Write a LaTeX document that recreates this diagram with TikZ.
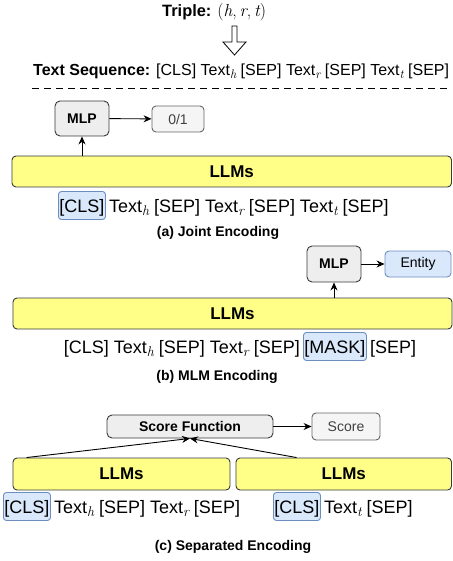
\documentclass[tikz,border=0pt]{standalone}
\usepackage{fontspec}
\setmainfont{Liberation Sans}
\usepackage{graphicx}
\usepackage{tikz}
\usetikzlibrary{arrows.meta}

\definecolor{llmyellow}{HTML}{FFFF88}
\definecolor{boxgray}{HTML}{EEEEEE}
\definecolor{outgray}{HTML}{F5F5F5}
\definecolor{outline}{HTML}{666666}
\definecolor{darkline}{HTML}{36393D}
\definecolor{hlblue}{HTML}{DAE8FC}
\definecolor{hlline}{HTML}{6C8EBF}

% italic subscript in Latin Modern
\newcommand{\sbs}[1]{\raisebox{-0.18em}{\scalebox{0.78}{\fontfamily{lmr}\fontshape{it}\selectfont #1}}}
\newcommand{\lmit}[1]{{\fontfamily{lmr}\fontshape{it}\selectfont #1}}

\begin{document}
\begin{tikzpicture}[x=1pt, y=-1pt,
  llm/.style={draw=darkline, fill=llmyellow, line width=0.9pt, rounded corners=4pt, inner sep=0pt, minimum height=31pt, font=\fontsize{17}{20}\selectfont\bfseries},
  mlp/.style={draw=darkline, fill=boxgray, line width=0.9pt, rounded corners=5pt, inner sep=0pt, font=\fontsize{14}{16}\selectfont\bfseries},
  outbox/.style={draw=outline, fill=outgray, line width=0.9pt, rounded corners=4pt, inner sep=0pt, text=black!75, font=\fontsize{14}{16}\selectfont},
  entbox/.style={draw=hlline, fill=hlblue, line width=0.9pt, rounded corners=4pt, inner sep=0pt, font=\fontsize{14}{16}\selectfont},
  tok/.style={inner sep=0pt, font=\fontsize{18}{20}\selectfont},
  hl/.style={tok, draw=hlline, fill=hlblue, line width=0.9pt, rounded corners=3pt, inner xsep=1pt, text height=13pt, text depth=0pt, minimum height=28pt},
  captxt/.style={inner sep=0pt, font=\fontsize{14}{16}\selectfont\bfseries},
  flow/.style={line width=0.9pt, -{Stealth[length=8pt, width=7pt]}}
]
\useasboundingbox (0,0) rectangle (452,561);

% triple and text sequence
\node[tok, font=\fontsize{16.4}{18}\selectfont, anchor=base west] (triple) at (162,17) {\textbf{Triple:} {\fontfamily{lmr}\fontsize{17.5}{20}\selectfont (\lmit{h},\,\lmit{r},\,\lmit{t})}};
\draw[line width=0.8pt] (232,26) -- (232,42) -- (223,42) -- (234.5,55) -- (246,42) -- (237,42) -- (237,26) -- cycle;
\node[tok, font=\fontsize{16}{18}\selectfont, anchor=base west] (textseq) at (33,76) {\textbf{Text Sequence:} [CLS] Text\sbs{h} [SEP] Text\sbs{r} [SEP] Text\sbs{t} [SEP]};
\draw[line width=0.8pt, dash pattern=on 7pt off 5pt] (32,88) -- (447,88);

% (a) joint encoding
\node[llm, minimum width=439.5pt] (llmA) at (231.75,171.5) {LLMs};
\node[mlp, minimum width=54pt, minimum height=35pt] (mlpA) at (82,118.5) {MLP};
\node[outbox, minimum width=52pt, minimum height=26pt] (outA) at (178,119) {0/1};
\node[hl, anchor=base west] (clsA) at (58,212) {[CLS]};
\node[tok, anchor=base west] (seqA) at ([xshift=3pt]clsA.base east) {Text\sbs{h} [SEP] Text\sbs{r} [SEP] Text\sbs{t} [SEP]};
\node[captxt] (capA) at (218,233) {(a) Joint Encoding};

\draw[flow] (mlpA.south |- llmA.north) -- (mlpA.south);
\draw[flow] (mlpA) -- (outA);

% (b) mlm encoding
\node[llm, minimum width=439pt] (llmB) at (232.5,313.5) {LLMs};
\node[mlp, minimum width=54pt, minimum height=36pt] (mlpB) at (334,264) {MLP};
\node[entbox, minimum width=66pt, minimum height=26pt] (entB) at (418,264) {Entity};
\node[hl, anchor=base west, minimum width=63pt] (maskB) at (303,353) {[MASK]};
\node[tok, anchor=base east] (seqB) at ([xshift=-3pt]maskB.base west) {[CLS] Text\sbs{h} [SEP] Text\sbs{r} [SEP]};
\node[tok, anchor=base west] (sepB) at ([xshift=3pt]maskB.base east) {[SEP]};
\node[captxt] (capB) at (217,377) {(b) MLM Encoding};

\draw[flow] (mlpB.south |- llmB.north) -- (mlpB.south);
\draw[flow] (mlpB) -- (entB);

% (c) separated encoding
\node[mlp, minimum width=166pt, minimum height=23pt] (sfC) at (190,426.5) {Score Function};
\node[outbox, minimum width=68pt, minimum height=27pt] (scoreC) at (346,426.5) {Score};
\node[llm, minimum width=217pt, minimum height=32pt] (llmL) at (121.5,474) {LLMs};
\node[llm, minimum width=215.5pt, minimum height=32pt] (llmR) at (343.75,474) {LLMs};
\node[hl, anchor=base west] (clsL) at (3,513) {[CLS]};
\node[tok, anchor=base west] (seqL) at ([xshift=3pt]clsL.base east) {Text\sbs{h} [SEP] Text\sbs{r} [SEP]};
\node[hl, anchor=base west] (clsR) at (273,513) {[CLS]};
\node[tok, anchor=base west] (seqR) at ([xshift=3pt]clsR.base east) {Text\sbs{t} [SEP]};
\node[captxt] (capC) at (233,547) {(c) Separated Encoding};

\draw[flow] (sfC) -- (scoreC);
\draw[flow] ([xshift=14pt]llmL.north west) -- (sfC.south);
\draw[flow] ([xshift=61pt]llmR.north west) -- (sfC.south);

\end{tikzpicture}
\end{document}
